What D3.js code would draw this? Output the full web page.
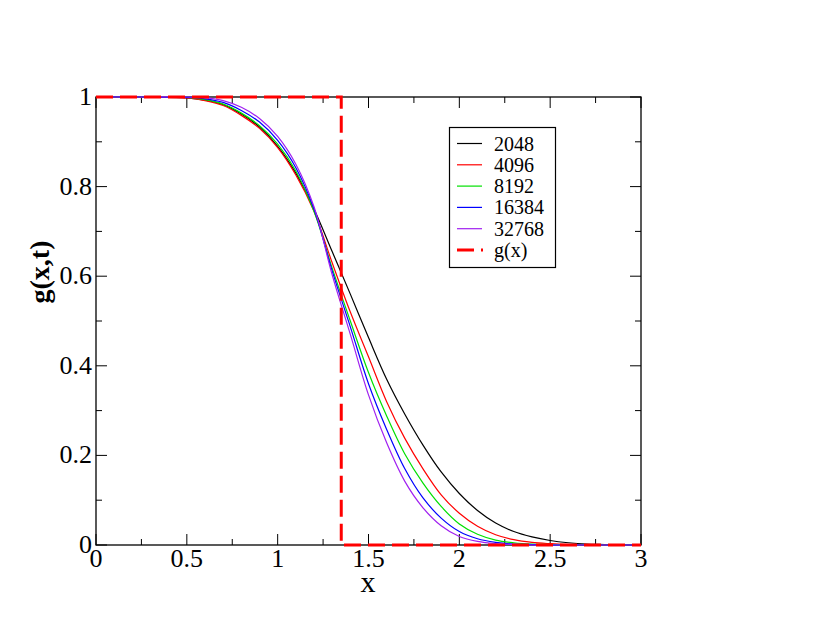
<!DOCTYPE html>
<html>
<head>
<meta charset="utf-8">
<script src="https://cdn.jsdelivr.net/npm/d3@7"></script>
<style>
  html, body { margin: 0; padding: 0; background: #fff; }
  svg { display: block; }
  text { font-family: "Liberation Serif", "Times New Roman", serif; }
</style>
</head>
<body>
<svg id="chart" width="830" height="642"></svg>
<script>
// ---- data ----
const xValues = [0, 0.3, 0.5, 0.6, 0.7, 0.8, 0.9, 1.0, 1.1, 1.2, 1.3, 1.4, 1.5, 1.6, 1.7, 1.8, 1.9, 2.0, 2.1, 2.2, 2.3, 2.4, 2.5, 2.6, 2.7, 2.8, 2.9, 3.0];
const g2048  = [1, 1, 0.998, 0.993, 0.983, 0.962, 0.933, 0.890, 0.830, 0.750, 0.655, 0.560, 0.463, 0.370, 0.292, 0.223, 0.163, 0.115, 0.077, 0.049, 0.030, 0.018, 0.010, 0.005, 0.002, 0.001, 0, 0];
const g4096  = [1, 1, 0.998, 0.992, 0.981, 0.959, 0.930, 0.887, 0.826, 0.745, 0.630, 0.520, 0.420, 0.320, 0.238, 0.170, 0.112, 0.071, 0.042, 0.023, 0.012, 0.006, 0.003, 0.001, 0, 0, 0, 0];
const g8192  = [1, 1, 0.999, 0.994, 0.984, 0.964, 0.936, 0.895, 0.835, 0.745, 0.618, 0.500, 0.385, 0.288, 0.203, 0.138, 0.086, 0.047, 0.024, 0.011, 0.005, 0.002, 0.001, 0, 0, 0, 0, 0];
const g16384 = [1, 1, 0.999, 0.996, 0.988, 0.970, 0.944, 0.903, 0.842, 0.750, 0.612, 0.487, 0.360, 0.258, 0.170, 0.105, 0.060, 0.030, 0.014, 0.006, 0.002, 0.001, 0, 0, 0, 0, 0, 0];
const g32768 = [1, 1, 1.0, 0.998, 0.992, 0.977, 0.952, 0.912, 0.850, 0.755, 0.603, 0.470, 0.335, 0.228, 0.142, 0.083, 0.043, 0.019, 0.008, 0.003, 0.001, 0, 0, 0, 0, 0, 0, 0];
const seriesNames = ["2048", "4096", "8192", "16384", "32768"];
const seriesValues = [g2048, g4096, g8192, g16384, g32768];
const seriesColors = ["#000000", "#ff0000", "#00e000", "#0000ff", "#a020f0"];
const stepX = 1.35;                       // position of the step in g(x)
const stepXs = [0, stepX, stepX, 3];
const stepYs = [1, 1, 0, 0];
const stepName = "g(x)";
const xTicks = [0, 0.5, 1, 1.5, 2, 2.5, 3];
const yTicks = [0, 0.2, 0.4, 0.6, 0.8, 1];
const xMinor = [0.25, 0.75, 1.25, 1.75, 2.25, 2.75];
const yMinor = [0.1, 0.3, 0.5, 0.7, 0.9];

// ---- layout ----
const svg = d3.select("#chart");
const L = 96, R = 641, T = 97, B = 545;
const x = d3.scaleLinear().domain([0, 3]).range([L, R]);
const y = d3.scaleLinear().domain([0, 1]).range([B, T]);

const fmt = d => d3.format("")(d);

// frame
svg.append("rect").attr("x", L).attr("y", T).attr("width", R - L).attr("height", B - T)
  .attr("fill", "none").attr("stroke", "#000").attr("stroke-width", 1.3);

// ticks (inside, on all four sides)
const tickG = svg.append("g").attr("stroke", "#000").attr("stroke-width", 1);
xTicks.concat(xMinor).forEach(v => {
  const len = xTicks.includes(v) ? 11 : 6;
  tickG.append("line").attr("x1", x(v)).attr("x2", x(v)).attr("y1", B).attr("y2", B - len);
  tickG.append("line").attr("x1", x(v)).attr("x2", x(v)).attr("y1", T).attr("y2", T + len);
});
yTicks.concat(yMinor).forEach(v => {
  const len = yTicks.includes(v) ? 11 : 6;
  tickG.append("line").attr("y1", y(v)).attr("y2", y(v)).attr("x1", L).attr("x2", L + len);
  tickG.append("line").attr("y1", y(v)).attr("y2", y(v)).attr("x1", R).attr("x2", R - len);
});

// tick labels
svg.append("g").selectAll("text").data(xTicks).join("text")
  .attr("x", d => x(d)).attr("y", B + 22).attr("text-anchor", "middle")
  .attr("font-size", 26).text(fmt);
svg.append("g").selectAll("text").data(yTicks).join("text")
  .attr("x", L - 4).attr("y", d => y(d) + 8).attr("text-anchor", "end")
  .attr("font-size", 26).text(fmt);

// axis labels
svg.append("text").attr("x", (L + R) / 2 - 0.5).attr("y", 592).attr("text-anchor", "middle")
  .attr("font-size", 30).text("x");
svg.append("text").attr("transform", `translate(49,272) rotate(-90)`)
  .attr("text-anchor", "middle").attr("font-size", 28).attr("font-weight", "bold").text("g(x,t)");

// curves
const line = d3.line().curve(d3.curveCatmullRom.alpha(0.5)).x(d => x(d[0])).y(d => y(d[1]));
seriesValues.forEach((vals, i) => {
  svg.append("path").datum(xValues.map((xv, j) => [xv, vals[j]]))
    .attr("d", line).attr("fill", "none").attr("stroke", seriesColors[i]).attr("stroke-width", 1.2);
});

// step function g(x)
const stepLine = d3.line().x(d => x(d[0])).y(d => y(d[1]));
svg.append("path").datum(stepXs.map((xv, j) => [xv, stepYs[j]]))
  .attr("d", stepLine).attr("fill", "none").attr("stroke", "#ff0000")
  .attr("stroke-width", 3).attr("stroke-dasharray", "17,7");

// legend
const lg = svg.append("g");
lg.append("rect").attr("x", 449.5).attr("y", 127.5).attr("width", 106).attr("height", 140)
  .attr("fill", "#fff").attr("stroke", "#000").attr("stroke-width", 1.2);
const rowY = i => 143.5 + i * 21.3;
seriesNames.forEach((n, i) => {
  lg.append("line").attr("x1", 457).attr("x2", 482).attr("y1", rowY(i)).attr("y2", rowY(i))
    .attr("stroke", seriesColors[i]).attr("stroke-width", 1.2);
  lg.append("text").attr("x", 494).attr("y", rowY(i) + 7).attr("font-size", 20).text(n);
});
lg.append("line").attr("x1", 457).attr("x2", 483).attr("y1", rowY(5)).attr("y2", rowY(5))
  .attr("stroke", "#ff0000").attr("stroke-width", 3).attr("stroke-dasharray", "17,7");
lg.append("text").attr("x", 494).attr("y", rowY(5) + 7).attr("font-size", 20).text(stepName);
</script>
</body>
</html>
